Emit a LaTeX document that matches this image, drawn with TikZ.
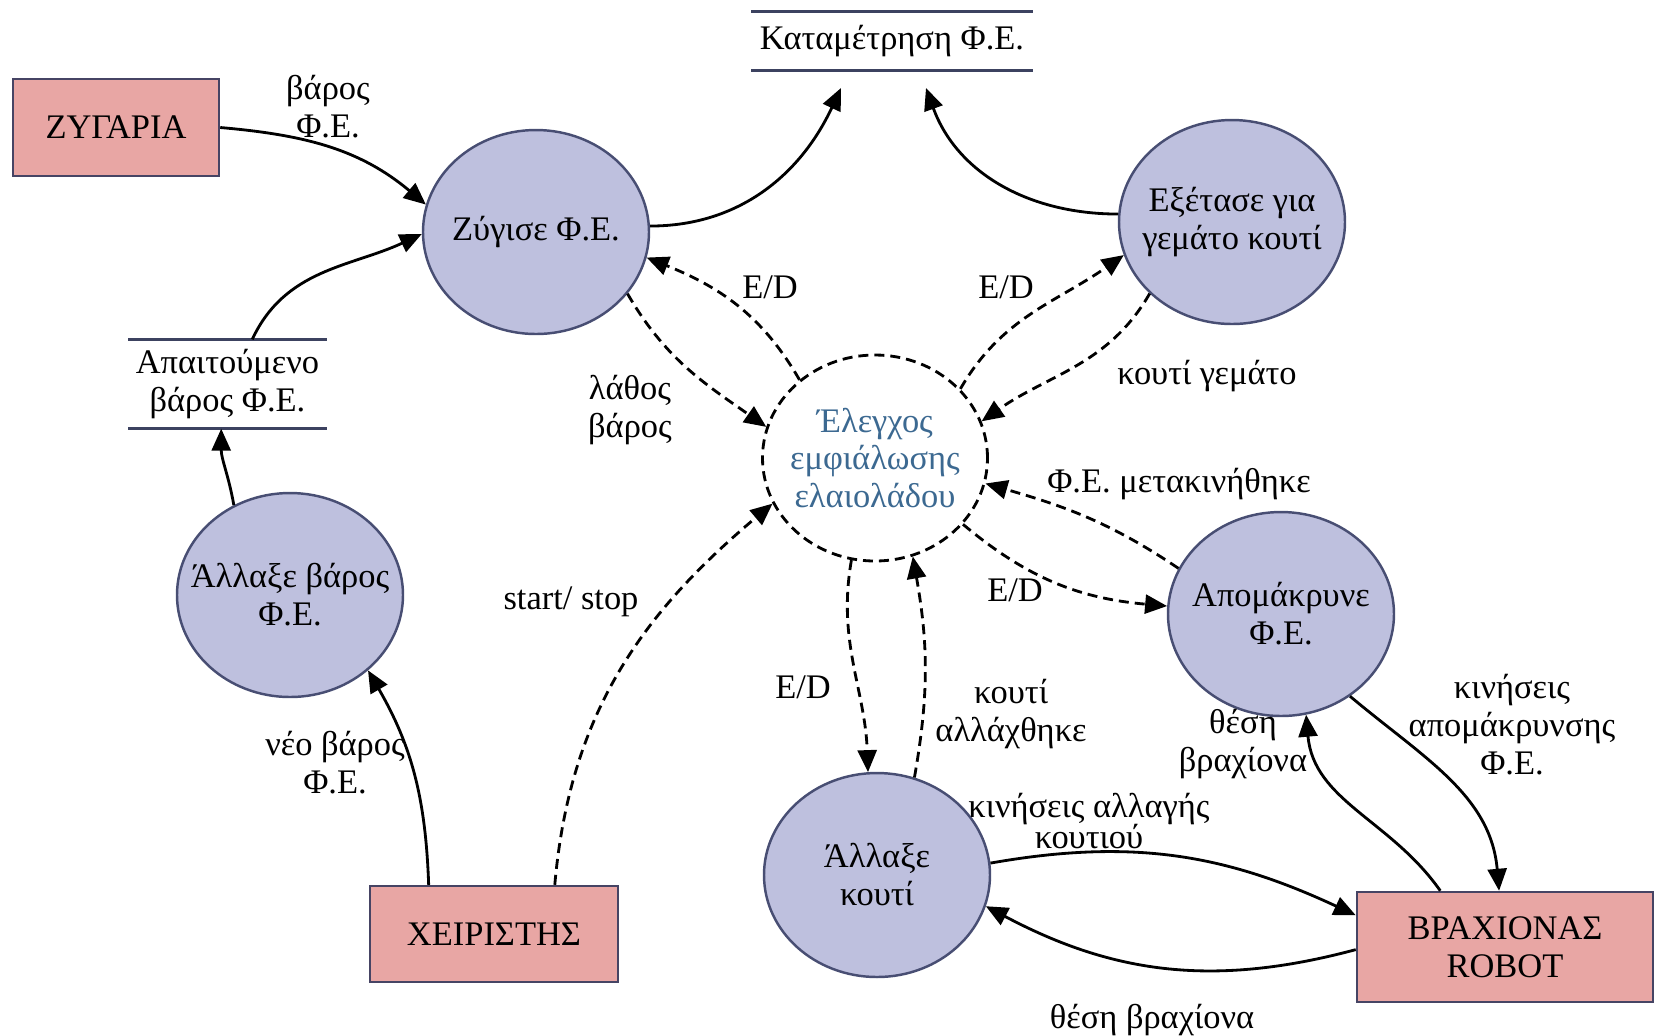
\documentclass[tikz,border=0pt]{standalone}
\usepackage{fontspec}
\setmainfont{Liberation Serif}
\usepackage{tikz}
\usetikzlibrary{arrows.meta, shapes.geometric}
\definecolor{procfill}{RGB}{190,192,222}
\definecolor{procedge}{RGB}{72,78,115}
\definecolor{termfill}{RGB}{232,166,164}
\definecolor{termedge}{RGB}{70,68,100}
\definecolor{ctrlblue}{RGB}{60,105,145}
\definecolor{storeline}{RGB}{60,66,96}

\begin{document}
\begin{tikzpicture}[
    font=\fontsize{9.8}{10.8}\selectfont,
    proc/.style={ellipse, draw=procedge, fill=procfill, line width=0.7pt, minimum width=2.26cm, minimum height=2.04cm, inner xsep=-3mm, inner ysep=0pt, align=center},
    ctrl/.style={ellipse, draw, line width=0.8pt, dash pattern=on 1mm off 0.6mm, minimum width=2.25cm, minimum height=2.06cm, inner xsep=-3mm, inner ysep=0pt, align=center, text=ctrlblue},
    term/.style={rectangle, draw=termedge, fill=termfill, line width=0.7pt, inner sep=0pt, align=center},
    store/.style={inner sep=0pt, align=center},
    storebar/.style={draw=storeline, line width=0.8pt},
    flow/.style={-{Triangle[length=2.2mm, width=1.9mm]}, line width=0.8pt},
    cflow/.style={flow, dash pattern=on 1mm off 0.6mm},
    lbl/.style={align=center},
]
\useasboundingbox (0,0) rectangle (16.59,-10.35);

% Processes
\node[proc] (zygise) at (5.36,-2.32) {Ζύγισε Φ.Ε.};
\node[proc] (exetase) at (12.32,-2.22) {Εξέτασε για\\γεμάτο κουτί};
\node[ctrl] (elegxos) at (8.75,-4.58) {Έλεγχος\\εμφιάλωσης\\ελαιολάδου};
\node[proc] (allbaros) at (2.90,-5.95) {Άλλαξε βάρος\\Φ.Ε.};
\node[proc] (apom) at (12.81,-6.14) {Απομάκρυνε\\Φ.Ε.};
\node[proc] (allkouti) at (8.77,-8.75) {Άλλαξε\\κουτί};

% Terminators
\node[term, minimum width=2.06cm, minimum height=0.97cm] (zygaria) at (1.16,-1.275) {ΖΥΓΑΡΙΑ};
\node[term, minimum width=2.48cm, minimum height=0.96cm] (xeir) at (4.94,-9.34) {ΧΕΙΡΙΣΤΗΣ};
\node[term, minimum width=2.96cm, minimum height=1.10cm] (robot) at (15.05,-9.47) {ΒΡΑΧΙΟΝΑΣ\\ROBOT};

% Data stores
\node[store, minimum width=2.80cm, minimum height=0.58cm] (katam) at (8.92,-0.41) {Καταμέτρηση Φ.Ε.};
\node[store, minimum width=1.97cm, minimum height=0.88cm] (apait) at (2.275,-3.84) {Απαιτούμενο\\βάρος Φ.Ε.};
\draw[storebar] (katam.north west) -- (katam.north east) (katam.south west) -- (katam.south east);
\draw[storebar] (apait.north west) -- (apait.north east) (apait.south west) -- (apait.south east);
\coordinate (katam-in1) at (8.41,-0.88);
\coordinate (katam-in2) at (9.26,-0.88);

% Data flows
\draw[flow] (zygaria.east) to[out=-5, in=140] (zygise.166);
\draw[flow] (apait.61) to[out=65, in=205] (zygise.181);
\draw[flow] (zygise.3) to[out=0, in=245] (katam-in1);
\draw[flow] (exetase.176) to[out=180, in=290] (katam-in2);
\draw[flow] (allbaros.122) to[out=100, in=-90] (apait.262);
\draw[flow] (xeir.143) to[out=92, in=-60] (allbaros.-44);
\draw[flow] (allkouti.6) to[out=10, in=155] (robot.168);
\draw[flow] (robot.181) to[out=195, in=-28] (allkouti.-16);
\draw[flow] (robot.139) to[out=125, in=-85] (apom.-76);
\draw[flow] (apom.-50) to[out=-40, in=95] (robot.96);

% Control flows
\draw[cflow] (xeir.39) to[out=85, in=220] (elegxos.204);
\draw[cflow] (zygise.-34) to[out=-60, in=145] (elegxos.164);
\draw[cflow] (elegxos.134) to[out=120, in=-22] (zygise.-13);
\draw[cflow] (elegxos.39) to[out=60, in=215] (exetase.197);
\draw[cflow] (exetase.221) to[out=240, in=35] (elegxos.19);
\draw[cflow] (apom.156) to[out=146, in=-16] (elegxos.-13);
\draw[cflow] (elegxos.-37) to[out=-40, in=175] (apom.176);
\draw[cflow] (elegxos.257) to[out=-100, in=92] (allkouti.95);
\draw[cflow] (allkouti.69) to[out=80, in=-80] (elegxos.-69);

% Flow labels
\node[lbl] (l-baros) at (3.28,-1.07) {βάρος\\Φ.Ε.};
\node[lbl] (l-ed1) at (7.70,-2.87) {E/D};
\node[lbl] (l-ed2) at (10.06,-2.87) {E/D};
\node[lbl] (l-lathos) at (6.30,-4.10) {λάθος\\βάρος};
\node[lbl] (l-gemato) at (12.07,-3.76) {κουτί γεμάτο};
\node[lbl] (l-metak) at (11.79,-4.84) {Φ.Ε. μετακινήθηκε};
\node[lbl] (l-ed3) at (10.15,-5.90) {E/D};
\node[lbl] (l-start) at (5.71,-6.02) {start/ stop};
\node[lbl] (l-neo) at (3.35,-7.63) {νέο βάρος\\Φ.Ε.};
\node[lbl] (l-ed4) at (8.03,-6.87) {E/D};
\node[lbl] (l-allax) at (10.11,-7.14) {κουτί\\αλλάχθηκε};
\node[lbl] (l-thesi1) at (12.43,-7.44) {θέση\\βραχίονα};
\node[lbl] (l-kinapom) at (15.12,-7.25) {κινήσεις\\απομάκρυνσης\\Φ.Ε.};
\node[lbl, font=\fontsize{9.8}{9}\selectfont] (l-kinall) at (10.89,-8.21) {κινήσεις αλλαγής\\κουτιού};
\node[lbl] (l-thesi2) at (11.52,-10.20) {θέση βραχίονα};
\end{tikzpicture}
\end{document}
